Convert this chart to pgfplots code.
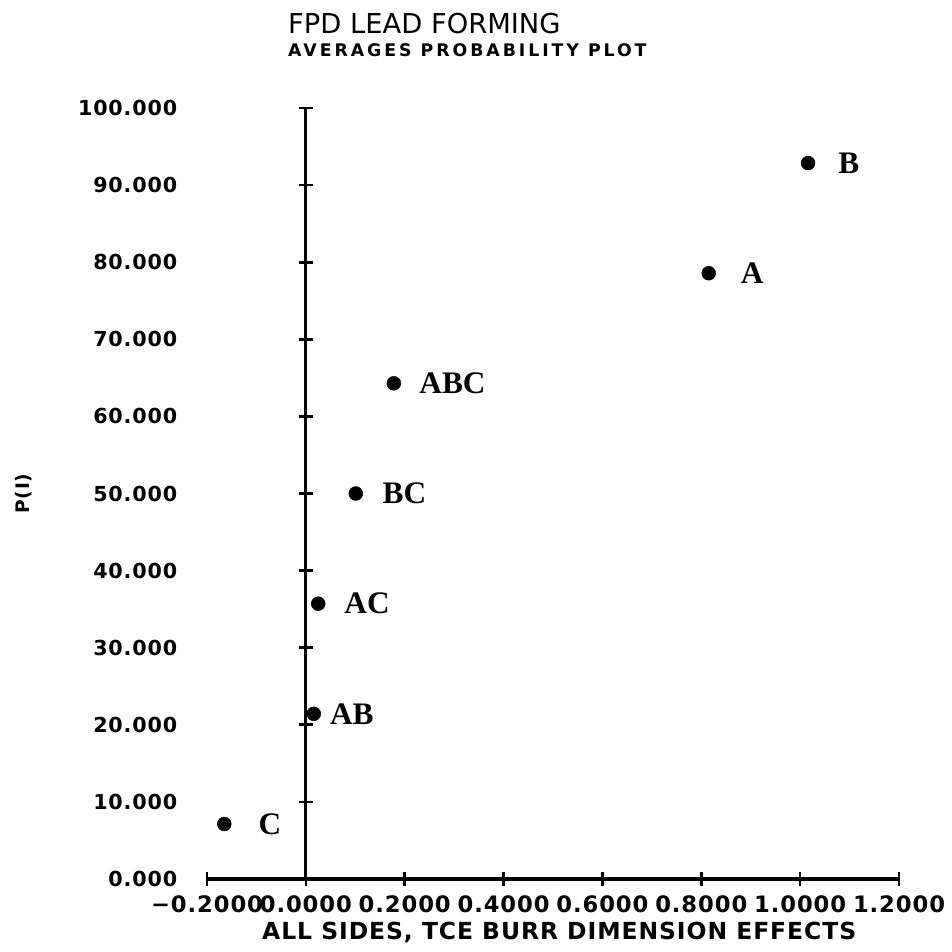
\documentclass[border=0pt]{standalone}
\usepackage{pgfplots}
\usepackage{pgfplotstable}
\pgfplotsset{compat=1.18}
\usepackage{fontspec}
\setmainfont{DejaVu Sans}
\newfontfamily\plotfont[LetterSpace=4]{DejaVu Sans}
\newfontfamily\subfont[LetterSpace=17]{DejaVu Sans}
\newfontfamily\seriffont{Liberation Serif}
\pgfplotstableread{
x y lab dx
-0.165 7.14 C 25.5
0.016 21.43 AB 12
0.025 35.71 AC 19.5
0.101 50.00 BC 20
0.178 64.29 ABC 19
0.815 78.57 A 24
1.016 92.86 B 22.5
}\pts
\begin{document}
\begin{tikzpicture}
\begin{axis}[name=ax, at={(0,0)}, anchor=south west,
  scale only axis, width=519pt, height=578.25pt,
  xmin=-0.2, xmax=1.2, ymin=0, ymax=100,
  axis lines=middle,
  axis line style={-, line width=2.4pt, black},
  every inner x axis line/.append style={-, line width=2.4pt},
  every inner y axis line/.append style={-, line width=2.4pt},
  hide obscured x ticks=false, hide obscured y ticks=false,
  xtick={-0.2,0,0.2,0.4,0.6,0.8,1.0,1.2},
  xticklabels={−0.2000,0.0000,0.2000,0.4000,0.6000,0.8000,1.0000,1.2000},
  ytick={0,10,20,30,40,50,60,70,80,90,100},
  yticklabels={0.000,10.000,20.000,30.000,40.000,50.000,60.000,70.000,80.000,90.000,100.000},
  tick align=center, major tick length=10pt, tick style={black, line width=2pt},
  xticklabel style={font=\plotfont\bfseries\fontsize{17}{17}\selectfont, anchor=north, yshift=-4pt},
  yticklabel style={font=\plotfont\bfseries\fontsize{15.5}{15.5}\selectfont, anchor=east, xshift=-88pt},
  xlabel={ALL SIDES, TCE BURR DIMENSION EFFECTS},
  ylabel={P(I)},
  every axis x label/.style={at={(rel axis cs:0.509,-0.0791)}, anchor=base, font=\plotfont\bfseries\fontsize{17.6}{17.6}\selectfont},
  every axis y label/.style={at={(rel axis cs:-0.265,0.5)}, anchor=center, rotate=90, font=\plotfont\bfseries\fontsize{14}{14}\selectfont},
  title={FPD LEAD FORMING},
  title style={at={(rel axis cs:0.117,1.0866)}, anchor=base west, inner sep=0pt, font=\fontsize{20.5}{20.5}\selectfont},
  clip=false,
]
\addplot[only marks, mark=*, mark size=5.2pt, black,
  point meta=explicit symbolic,
  visualization depends on={\thisrow{dx} \as \dx},
  nodes near coords,
  nodes near coords style={anchor=west, inner sep=0pt, xshift=\dx pt, font=\seriffont\bfseries\fontsize{23.5}{23.5}\selectfont}]
  table[x=x, y=y, meta=lab]{\pts};
\node[anchor=base west, inner sep=0pt, font=\subfont\bfseries\fontsize{13}{13}\selectfont] at (rel axis cs:0.117,1.0674) {AVERAGES PROBABILITY PLOT};
\end{axis}
\pgfresetboundingbox
\path[use as bounding box] (ax.south west) ++(-155.25pt,-54pt) rectangle ++(714pt,713.25pt);
\end{tikzpicture}
\end{document}
